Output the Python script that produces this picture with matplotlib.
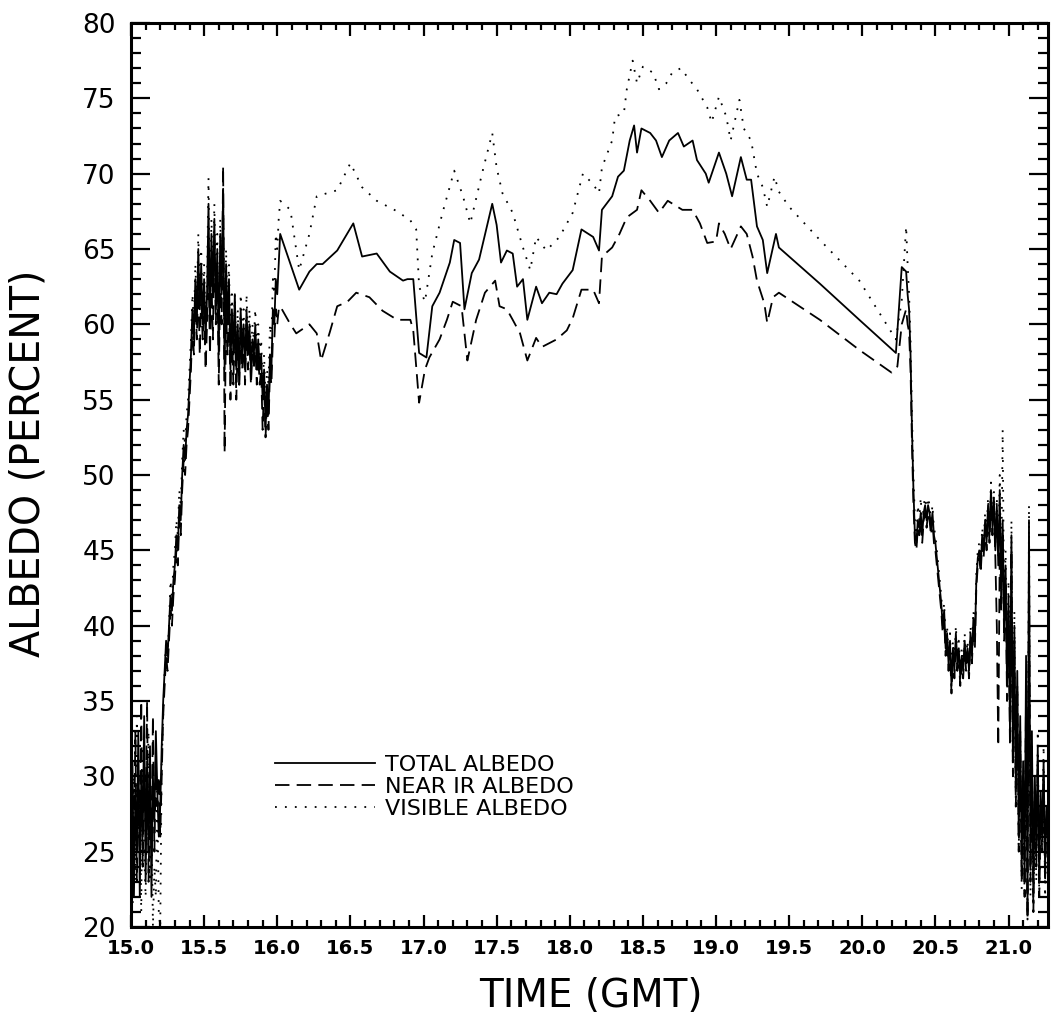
import matplotlib
matplotlib.use("Agg")
import matplotlib.pyplot as plt
from matplotlib.ticker import MultipleLocator, FormatStrFormatter

# ---------------- data ----------------
# noisy start segment (shared time grid), 15.00 .. 16.01
time_start = [
    15.00, 15.01, 15.02, 15.03, 15.04, 15.05, 15.06, 15.07, 15.08, 15.09,
    15.10, 15.11, 15.12, 15.13, 15.14, 15.15, 15.16, 15.17, 15.18, 15.19,
    15.20, 15.21, 15.22, 15.23, 15.24, 15.25, 15.26, 15.27, 15.28, 15.29,
    15.30, 15.31, 15.32, 15.33, 15.34, 15.35, 15.36, 15.37, 15.38, 15.39,
    15.40, 15.41, 15.42, 15.43, 15.44, 15.45, 15.46, 15.47, 15.48, 15.49,
    15.50, 15.51, 15.52, 15.53, 15.54, 15.55, 15.56, 15.57, 15.58, 15.59,
    15.60, 15.61, 15.62, 15.63, 15.64, 15.65, 15.66, 15.67, 15.68, 15.69,
    15.70, 15.71, 15.72, 15.73, 15.74, 15.75, 15.76, 15.77, 15.78, 15.79,
    15.80, 15.81, 15.82, 15.83, 15.84, 15.85, 15.86, 15.87, 15.88, 15.89,
    15.90, 15.91, 15.92, 15.93, 15.94, 15.95, 15.96, 15.97, 15.98, 15.99,
    16.00, 16.01,
]
total_start = [
    24, 31, 22, 29, 25, 33, 22, 30, 26, 34,
    23, 31, 25, 32, 22, 30, 27, 33, 29, 26,
    28, 32, 35, 37, 39, 38, 40, 42, 41, 43,
    44, 46, 45, 48, 47, 50, 52, 51, 53, 54,
    56, 58, 61, 59, 63, 60, 65, 61, 64, 60,
    63, 59, 62, 68, 60, 66, 62, 67, 61, 65,
    58, 66, 62, 69, 57, 64, 60, 63, 57, 61,
    58, 62, 57, 60, 56, 61, 58, 60, 57, 61,
    58, 60, 57, 59, 58, 60, 57, 59, 57, 58,
    55, 57, 53, 56, 54, 58, 57, 61, 60, 63,
    62, 64,
]
nir_start = [
    22, 29, 24, 33, 23, 30, 25, 35, 24, 31,
    27, 35, 23, 29, 26, 34, 25, 31, 28, 30,
    26, 30, 34, 36, 38, 37, 39, 41, 40, 42,
    43, 45, 44, 47, 46, 49, 51, 50, 52, 53,
    55, 57, 60, 58, 62, 59, 63, 58, 62, 59,
    61, 57, 60, 64, 58, 63, 59, 66, 60, 64,
    56, 63, 60, 70.5, 51.5, 61, 58, 62, 55, 60,
    56, 61, 55, 59, 56, 60, 57, 59, 56, 60,
    57, 59, 56, 58, 57, 59, 56, 58, 56, 57,
    53, 56, 52.5, 55, 53, 57, 56, 59, 59, 61,
    60, 61,
]
vis_start = [
    27, 21, 30, 23, 34, 26, 29, 21, 32, 25,
    22, 28, 33, 23, 27, 20, 24, 22, 29, 21,
    20, 31, 34, 37, 39, 38, 40, 43, 42, 44,
    45, 47, 46, 49, 48, 51, 53, 52, 54, 55,
    57, 59, 62, 60, 64, 61, 66, 62, 65, 61,
    64, 60, 63, 69.7, 61, 67, 63, 68, 62, 66,
    59, 67, 63, 68, 58, 65, 61, 64, 58, 62,
    59, 62, 58, 61, 57, 62, 59, 61, 58, 62,
    59, 61, 58, 60, 59, 61, 58, 60, 58, 59,
    56, 58, 55, 57, 56, 60, 59, 63, 62, 66,
    65, 67,
]

# separated middle segment, each series on its own times
time_total_mid = [
    16.02, 16.09, 16.15, 16.22, 16.27, 16.31, 16.41, 16.52, 16.58, 16.68,
    16.77, 16.86, 16.89, 16.93, 16.97, 17.02, 17.06, 17.11, 17.18, 17.21,
    17.25, 17.28, 17.33, 17.38, 17.47, 17.50, 17.53, 17.57, 17.61, 17.64,
    17.68, 17.71, 17.77, 17.81, 17.86, 17.91, 17.95, 18.02, 18.08, 18.16,
    18.20, 18.22, 18.29, 18.33, 18.37, 18.41, 18.44, 18.46, 18.49, 18.55,
    18.59, 18.63, 18.68, 18.74, 18.78, 18.84, 18.87, 18.93, 18.95, 19.02,
    19.07, 19.11, 19.17, 19.21, 19.24, 19.28, 19.32, 19.35, 19.38, 19.41,
    19.43, 19.71, 19.98, 20.23, 20.27,
]
total_mid = [
    66, 64, 62.3, 63.5, 64, 64, 64.9, 66.7, 64.5, 64.7,
    63.5, 62.9, 63, 63, 58.1, 57.8, 61.2, 62.1, 64.1, 65.6,
    65.4, 61, 63.4, 64.3, 68, 66.6, 64.1, 64.9, 64.7, 62.5,
    63, 60.3, 62.5, 61.4, 62.1, 62, 62.7, 63.6, 66.3, 65.8,
    64.9, 67.6, 68.5, 69.8, 70.2, 72.2, 73.2, 71.4, 73, 72.7,
    72.2, 71.1, 72.2, 72.7, 71.8, 72.2, 70.9, 70, 69.4, 71.4,
    70, 68.5, 71.1, 69.6, 69.6, 66.5, 65.6, 63.4, 64.7, 66,
    65.1, 62.7, 60.3, 58.1, 63.8,
]
time_nir_mid = [
    16.02, 16.09, 16.13, 16.22, 16.27, 16.30, 16.36, 16.41, 16.48, 16.54,
    16.63, 16.72, 16.82, 16.91, 16.93, 16.97, 17.01, 17.04, 17.11, 17.16,
    17.20, 17.26, 17.30, 17.36, 17.42, 17.49, 17.52, 17.57, 17.61, 17.66,
    17.71, 17.77, 17.81, 17.91, 17.98, 18.02, 18.08, 18.16, 18.20, 18.22,
    18.29, 18.34, 18.39, 18.46, 18.49, 18.55, 18.61, 18.67, 18.77, 18.84,
    18.89, 18.94, 19.00, 19.02, 19.06, 19.10, 19.17, 19.21, 19.25, 19.28,
    19.33, 19.35, 19.39, 19.43, 19.71, 19.98, 20.20, 20.24, 20.27,
]
nir_mid = [
    61.2, 60, 59.4, 60, 59.4, 57.6, 59.5, 61.2, 61.5, 62.1,
    61.8, 60.9, 60.3, 60.3, 59.6, 54.8, 57, 57.8, 59, 60.3,
    61.5, 61.2, 57.6, 60.3, 62.1, 62.9, 61.2, 61, 60.3, 59.4,
    57.6, 59.1, 58.5, 59, 59.6, 60.4, 62.3, 62.3, 61.4, 64.5,
    65.1, 66, 67.1, 67.6, 68.9, 68.2, 67.4, 68.2, 67.6, 67.6,
    66.7, 65.4, 65.5, 66.7, 66, 65, 66.5, 66, 64.5, 62.9,
    61.4, 60.1, 61.8, 62.1, 60.3, 58.3, 56.8, 57.2, 60,
]
time_vis_mid = [
    16.02, 16.09, 16.15, 16.22, 16.27, 16.41, 16.50, 16.58, 16.68, 16.82,
    16.91, 16.95, 16.97, 17.01, 17.06, 17.13, 17.21, 17.27, 17.32, 17.40,
    17.47, 17.50, 17.54, 17.61, 17.68, 17.73, 17.77, 17.84, 17.93, 18.02,
    18.09, 18.16, 18.20, 18.22, 18.29, 18.31, 18.37, 18.39, 18.43, 18.46,
    18.50, 18.57, 18.61, 18.66, 18.70, 18.76, 18.82, 18.87, 18.94, 18.97,
    19.02, 19.07, 19.10, 19.16, 19.19, 19.24, 19.28, 19.32, 19.35, 19.40,
    19.43, 19.50, 19.71, 19.98, 20.16, 20.23, 20.27,
]
vis_mid = [
    68.2, 67.6, 63.6, 66, 68.5, 68.9, 70.7, 69.1, 68.2, 67.5,
    66.9, 66.3, 62.5, 61.5, 64.7, 67.4, 70.2, 68.5, 66.7, 70,
    72.7, 70.4, 68.7, 67.4, 65.1, 63.6, 65.8, 64.9, 65.8, 67.4,
    70, 69.3, 68.7, 70.4, 72.2, 73.8, 74, 75.6, 77.5, 76,
    77.1, 76.7, 75.6, 76, 76.7, 77, 76.2, 75.6, 74.4, 73.4,
    75.1, 73.8, 72.2, 74.9, 73, 72.2, 70, 69.1, 67.8, 69.8,
    68.8, 67.8, 65.6, 62.9, 60.1, 59, 61.6,
]

# noisy end segment (shared time grid), 20.30 .. 21.26
time_end = [
    20.30, 20.31, 20.32, 20.33, 20.34, 20.35, 20.36, 20.37, 20.38, 20.39,
    20.40, 20.41, 20.42, 20.43, 20.44, 20.45, 20.46, 20.47, 20.48, 20.49,
    20.50, 20.51, 20.52, 20.53, 20.54, 20.55, 20.56, 20.57, 20.58, 20.59,
    20.60, 20.61, 20.62, 20.63, 20.64, 20.65, 20.66, 20.67, 20.68, 20.69,
    20.70, 20.71, 20.72, 20.73, 20.74, 20.75, 20.76, 20.77, 20.78, 20.79,
    20.80, 20.81, 20.82, 20.83, 20.84, 20.85, 20.86, 20.87, 20.88, 20.89,
    20.90, 20.91, 20.92, 20.93, 20.94, 20.95, 20.96, 20.97, 20.98, 20.99,
    21.00, 21.01, 21.02, 21.03, 21.04, 21.05, 21.06, 21.07, 21.08, 21.09,
    21.10, 21.11, 21.12, 21.13, 21.14, 21.15, 21.16, 21.17, 21.18, 21.19,
    21.20, 21.21, 21.22, 21.23, 21.24, 21.25, 21.26,
]
total_end = [
    63.5, 62, 61, 58, 53, 49, 46, 45.5, 47, 46.5,
    47.5, 46, 47.5, 48, 47, 48, 47.5, 46.5, 47.5, 46,
    45.5, 44.5, 43.5, 42.5, 41.5, 40, 41, 38.5, 39.5, 37.5,
    39, 36, 38.5, 37, 39.5, 37.5, 38.5, 36.5, 38, 37,
    39, 37.5, 38.5, 37, 39.5, 38, 40.5, 39, 43, 44.5,
    45, 44, 46, 45, 47, 45.5, 48, 46, 49, 46.5,
    48.5, 45, 48, 44, 49, 42, 47, 40, 44, 36,
    42, 33, 46, 31, 40, 29, 37, 26, 34, 24,
    31, 23, 38, 21, 47, 24, 33, 22, 30, 25,
    32, 23, 29, 26, 31, 24, 28,
]
nir_end = [
    61, 60, 59.5, 57, 52, 48, 45.5, 45, 46.5, 46,
    47, 45.5, 47, 47.5, 46.5, 47.5, 47, 46, 47, 45.5,
    45, 44, 43, 42, 41, 39.5, 40.5, 38, 39, 37,
    38.5, 35.5, 38, 36.5, 39, 37, 38, 36, 37.5, 36.5,
    38.5, 37, 38, 36.5, 39, 37.5, 40, 38.5, 42.5, 44,
    44.5, 43.5, 45.5, 44.5, 46.5, 45, 47.5, 45.5, 48.5, 46,
    48, 44.5, 40, 32, 45, 41, 46, 39, 43, 35,
    41, 32, 45, 30, 39, 28, 36, 25, 33, 23,
    30, 22, 36, 20.5, 45, 23, 32, 21, 29, 24,
    31, 22, 28, 25, 30, 23, 27,
]
vis_end = [
    66.5, 64, 62, 59, 54, 50, 47, 46, 48, 47,
    48.5, 46.5, 48, 48.5, 47.5, 48.5, 48, 47, 48, 46.5,
    46, 45, 44, 43, 42, 40.5, 41.5, 39, 40, 38,
    39.5, 36.5, 39, 37.5, 40, 38, 39, 37, 38.5, 37.5,
    39.5, 38, 39, 37.5, 40, 38.5, 41, 39.5, 43.5, 45,
    45.5, 44.5, 46.5, 45.5, 47.5, 46, 48.5, 46.5, 49.5, 47,
    49, 45.5, 48.5, 44.5, 50, 43, 53, 41, 45, 37,
    43, 34, 47, 30, 41, 28, 36, 25, 33, 22.5,
    29, 22, 35, 20.5, 48, 22, 31, 21, 28, 23,
    33, 22, 27, 25, 32, 22, 26,
]

series_labels = ["TOTAL ALBEDO", "NEAR IR ALBEDO", "VISIBLE ALBEDO"]
x_label = "TIME (GMT)"
y_label = "ALBEDO (PERCENT)"

# ---------------- assemble ----------------
t_total = time_start + time_total_mid + time_end
v_total = total_start + total_mid + total_end
t_nir = time_start + time_nir_mid + time_end
v_nir = nir_start + nir_mid + nir_end
t_vis = time_start + time_vis_mid + time_end
v_vis = vis_start + vis_mid + vis_end

fig = plt.figure(figsize=(10.52, 10.24), dpi=100)
ax = fig.add_axes([131 / 1052, 1 - 927 / 1024, 917 / 1052, 904 / 1024])

ax.plot(t_total, v_total, color="black", lw=1.3, ls="-", label=series_labels[0])
ax.plot(t_nir, v_nir, color="black", lw=1.3, ls=(0, (8, 4)), label=series_labels[1])
ax.plot(t_vis, v_vis, color="black", lw=1.3, ls=(0, (1, 4.5)), label=series_labels[2])

ax.set_xlim(15.0, 21.27)
ax.set_ylim(20, 80)
ax.xaxis.set_major_locator(MultipleLocator(0.5))
ax.xaxis.set_minor_locator(MultipleLocator(0.1))
ax.yaxis.set_major_locator(MultipleLocator(5))
ax.yaxis.set_minor_locator(MultipleLocator(1))
ax.xaxis.set_major_formatter(FormatStrFormatter("%.1f"))
ax.yaxis.set_major_formatter(FormatStrFormatter("%d"))

ax.tick_params(axis="both", which="both", direction="in", top=True, right=True,
               width=1.6, color="black")
ax.tick_params(axis="y", which="major", length=14, labelsize=19, pad=11)
ax.tick_params(axis="y", which="minor", length=7)
ax.tick_params(axis="x", which="major", length=9, labelsize=14, pad=9)
ax.tick_params(axis="x", which="minor", length=5)
for lbl in ax.get_xticklabels():
    lbl.set_fontweight("bold")
for sp in ax.spines.values():
    sp.set_linewidth(2.2)

fig.text(591 / 1052, 1 - 996 / 1024, x_label, ha="center", va="center", fontsize=28)
fig.text(29 / 1052, 1 - 463 / 1024, y_label, ha="center", va="center",
         rotation=90, fontsize=28.5)

ax.legend(loc="upper left", bbox_to_anchor=((275 - 131) / 917, (927 - 755) / 904),
          frameon=False, borderpad=0, borderaxespad=0, handlelength=4.5,
          handletextpad=0.45, labelspacing=0.08, fontsize=16)

fig.savefig("out.png", dpi=100)
